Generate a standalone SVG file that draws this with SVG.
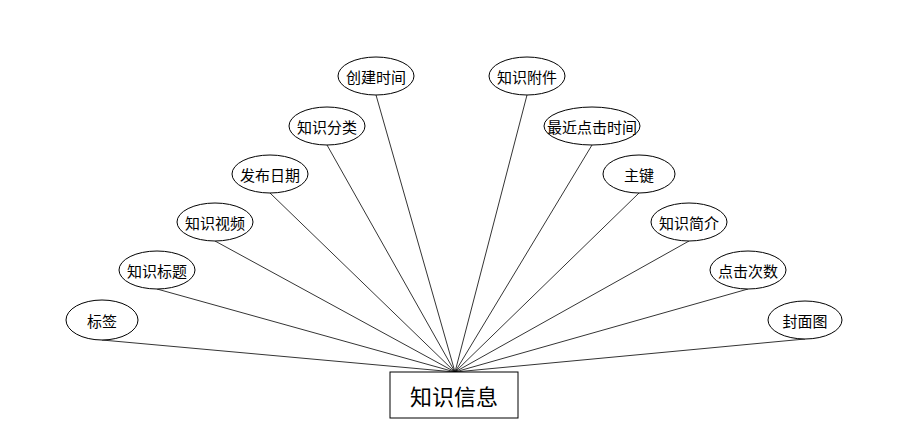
<svg xmlns="http://www.w3.org/2000/svg" width="918" height="434" viewBox="0 0 918 434">
<style>
ellipse{fill:#fff;stroke:#000;stroke-width:1}
line{stroke:#000;stroke-width:0.8}
text{font-family:"Noto Sans CJK SC",sans-serif;font-size:15px;text-anchor:middle;dominant-baseline:central;fill:#000}
</style>
<rect width="918" height="434" fill="#fff"/>
<g id="connectors">
<line x1="455" y1="372" x2="102" y2="340"/>
<line x1="455" y1="372" x2="157" y2="289"/>
<line x1="455" y1="372" x2="215" y2="241"/>
<line x1="455" y1="372" x2="270" y2="193"/>
<line x1="455" y1="372" x2="327" y2="145"/>
<line x1="455" y1="372" x2="376" y2="95"/>
<line x1="455" y1="372" x2="527" y2="95"/>
<line x1="455" y1="372" x2="592" y2="145"/>
<line x1="455" y1="372" x2="639" y2="193"/>
<line x1="455" y1="372" x2="689" y2="241"/>
<line x1="455" y1="372" x2="748" y2="289"/>
<line x1="455" y1="372" x2="805" y2="339"/>
</g>
<g id="n0"><ellipse cx="102" cy="320" rx="36" ry="20"/><text x="102" y="320">标签</text></g>
<g id="n1"><ellipse cx="157" cy="270" rx="38" ry="19"/><text x="157" y="270">知识标题</text></g>
<g id="n2"><ellipse cx="215" cy="222" rx="38" ry="19"/><text x="215" y="222">知识视频</text></g>
<g id="n3"><ellipse cx="270" cy="174" rx="38" ry="19"/><text x="270" y="174">发布日期</text></g>
<g id="n4"><ellipse cx="327" cy="126" rx="38" ry="19"/><text x="327" y="126">知识分类</text></g>
<g id="n5"><ellipse cx="376" cy="76" rx="38" ry="19"/><text x="376" y="76">创建时间</text></g>
<g id="n6"><ellipse cx="527" cy="76" rx="38" ry="19"/><text x="527" y="76">知识附件</text></g>
<g id="n7"><ellipse cx="592" cy="126" rx="48" ry="19"/><text x="592" y="126">最近点击时间</text></g>
<g id="n8"><ellipse cx="639" cy="174" rx="36" ry="19"/><text x="639" y="174">主键</text></g>
<g id="n9"><ellipse cx="689" cy="222" rx="38" ry="19"/><text x="689" y="222">知识简介</text></g>
<g id="n10"><ellipse cx="748" cy="270" rx="38" ry="19"/><text x="748" y="270">点击次数</text></g>
<g id="n11"><ellipse cx="805" cy="320" rx="37" ry="19"/><text x="805" y="320">封面图</text></g>
<g id="center"><rect x="390" y="372" width="128" height="46" fill="#fff" stroke="#000"/><text x="454" y="395" style="font-size:22px">知识信息</text></g>
</svg>
